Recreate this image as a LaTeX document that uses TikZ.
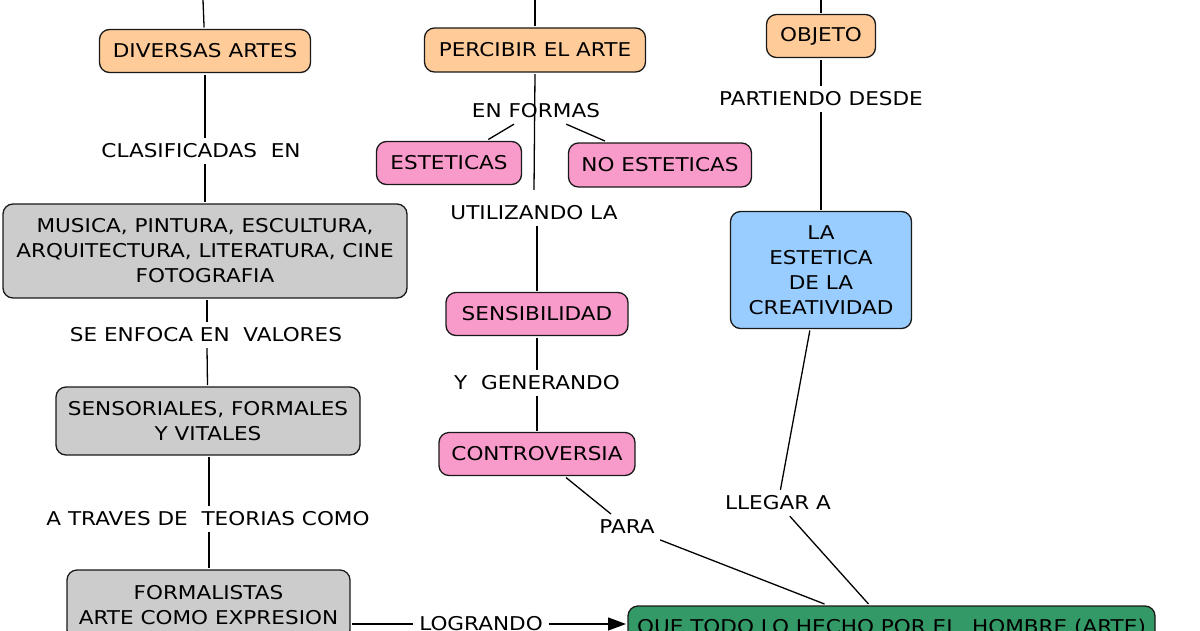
\documentclass[tikz,border=0pt]{standalone}
\usepackage{fontspec}
\setmainfont{DejaVu Sans}[FakeStretch=1.135]
\usetikzlibrary{arrows.meta}
\definecolor{peach}{HTML}{FFCC99}
\definecolor{pinkbox}{HTML}{F99BCA}
\definecolor{graybox}{HTML}{CCCCCC}
\definecolor{bluebox}{HTML}{99CCFF}
\definecolor{greenbox}{HTML}{339966}
\begin{document}
\begin{tikzpicture}[x=1pt,y=-1pt,
  box/.style={draw=black!90, line width=1.3pt, rounded corners=10pt, align=center,
    font=\fontsize{19}{25}\selectfont, inner sep=0pt, outer sep=2pt},
  lbl/.style={font=\fontsize{19}{25}\selectfont, inner sep=2pt, outer sep=4pt},
  conn/.style={line width=1.3pt, black}]
\useasboundingbox (0,0) rectangle (1200,630);
\clip (0,0) rectangle (1200,630);
% top free ends
\coordinate (t1) at (203,0);
\coordinate (t2) at (535,0);
\coordinate (t3) at (821,0);
% boxes
\node[box, fill=peach, minimum width=211pt, minimum height=43pt] (dive) at (205,51) {DIVERSAS ARTES};
\node[box, fill=peach, minimum width=221pt, minimum height=44pt] (perc) at (535,50) {PERCIBIR EL ARTE};
\node[box, fill=peach, minimum width=109pt, minimum height=43pt] (obj) at (821,36) {OBJETO};
\node[box, fill=pinkbox, minimum width=145pt, minimum height=43pt] (est) at (449,163) {ESTETICAS};
\node[box, fill=pinkbox, minimum width=183pt, minimum height=44pt] (noest) at (660,165) {NO ESTETICAS};
\node[box, fill=pinkbox, minimum width=182pt, minimum height=43pt] (sens) at (537,314) {SENSIBILIDAD};
\node[box, fill=pinkbox, minimum width=196pt, minimum height=43pt] (contr) at (537,454) {CONTROVERSIA};
\node[box, fill=bluebox, minimum width=181pt, minimum height=117pt] (laest) at (821,270) {LA\\ESTETICA\\DE LA\\CREATIVIDAD};
\node[box, fill=graybox, minimum width=404pt, minimum height=94pt] (musica) at (205,251) {MUSICA, PINTURA, ESCULTURA,\\ARQUITECTURA, LITERATURA, CINE\\FOTOGRAFIA};
\node[box, fill=graybox, minimum width=304pt, minimum height=68pt] (senso) at (208,421) {SENSORIALES, FORMALES\\Y VITALES};
\node[box, fill=graybox, minimum width=283pt, minimum height=70pt] (formal) at (208.5,605) {FORMALISTAS\\ARTE COMO EXPRESION};
\node[box, fill=greenbox, minimum width=527pt, minimum height=44pt] (green) at (891.5,628) {QUE TODO LO HECHO POR EL\ \ HOMBRE (ARTE)};
% labels
\node[lbl] (clas) at (201,151) {CLASIFICADAS\ \ EN};
\node[lbl] (enfo) at (206,335) {SE ENFOCA EN\ \ VALORES};
\node[lbl] (trav) at (208,519) {A TRAVES DE\ \ TEORIAS COMO};
\node[lbl] (enf) at (536,111) {EN FORMAS};
\node[lbl] (util) at (534,213) {UTILIZANDO LA};
\node[lbl] (part) at (821,99) {PARTIENDO DESDE};
\node[lbl] (gene) at (537,383) {Y\ \ GENERANDO};
\node[lbl] (para) at (627,527) {PARA};
\node[lbl] (lleg) at (778,503) {LLEGAR A};
\node[lbl] (logr) at (481,624) {LOGRANDO};
% connectors
\draw[conn] (t1) -- (dive);
\draw[conn] (t2) -- (perc);
\draw[conn] (t3) -- (obj);
\draw[conn] (dive.south) -- (dive.south |- clas.north);
\draw[conn] (dive.south |- clas.south) -- (dive.south |- musica.north);
\draw[conn] ([xshift=2pt]musica.south) -- ([xshift=2pt]musica.south |- enfo.north);
\draw[conn] ([xshift=2pt]musica.south |- enfo.south) -- (senso);
\draw[conn] ([xshift=1pt]senso.south) -- ([xshift=1pt]senso.south |- trav.north);
\draw[conn] ([xshift=1pt]senso.south |- trav.south) -- ([xshift=0.5pt]formal.north);
\draw[conn] (perc.south) -- ([yshift=10pt]util.north);
\draw[conn] (enf) -- (est);
\draw[conn] (enf) -- (noest);
\draw[conn] ([xshift=3pt]util.south) -- (sens);
\draw[conn] (sens) -- (gene);
\draw[conn] (gene) -- (contr);
\draw[conn] (contr) -- (para);
\draw[conn] (para) -- ([xshift=-67pt]green.north);
\draw[conn] (obj) -- (part);
\draw[conn] (part) -- (laest);
\draw[conn] (laest) -- (lleg);
\draw[conn] (lleg) -- ([xshift=-23pt]green.north);
\draw[conn] (formal.east |- logr) -- (logr);
\draw[conn, -{Triangle[length=18pt,width=13pt]}] (logr) -- (green.west |- logr);
\end{tikzpicture}
\end{document}
